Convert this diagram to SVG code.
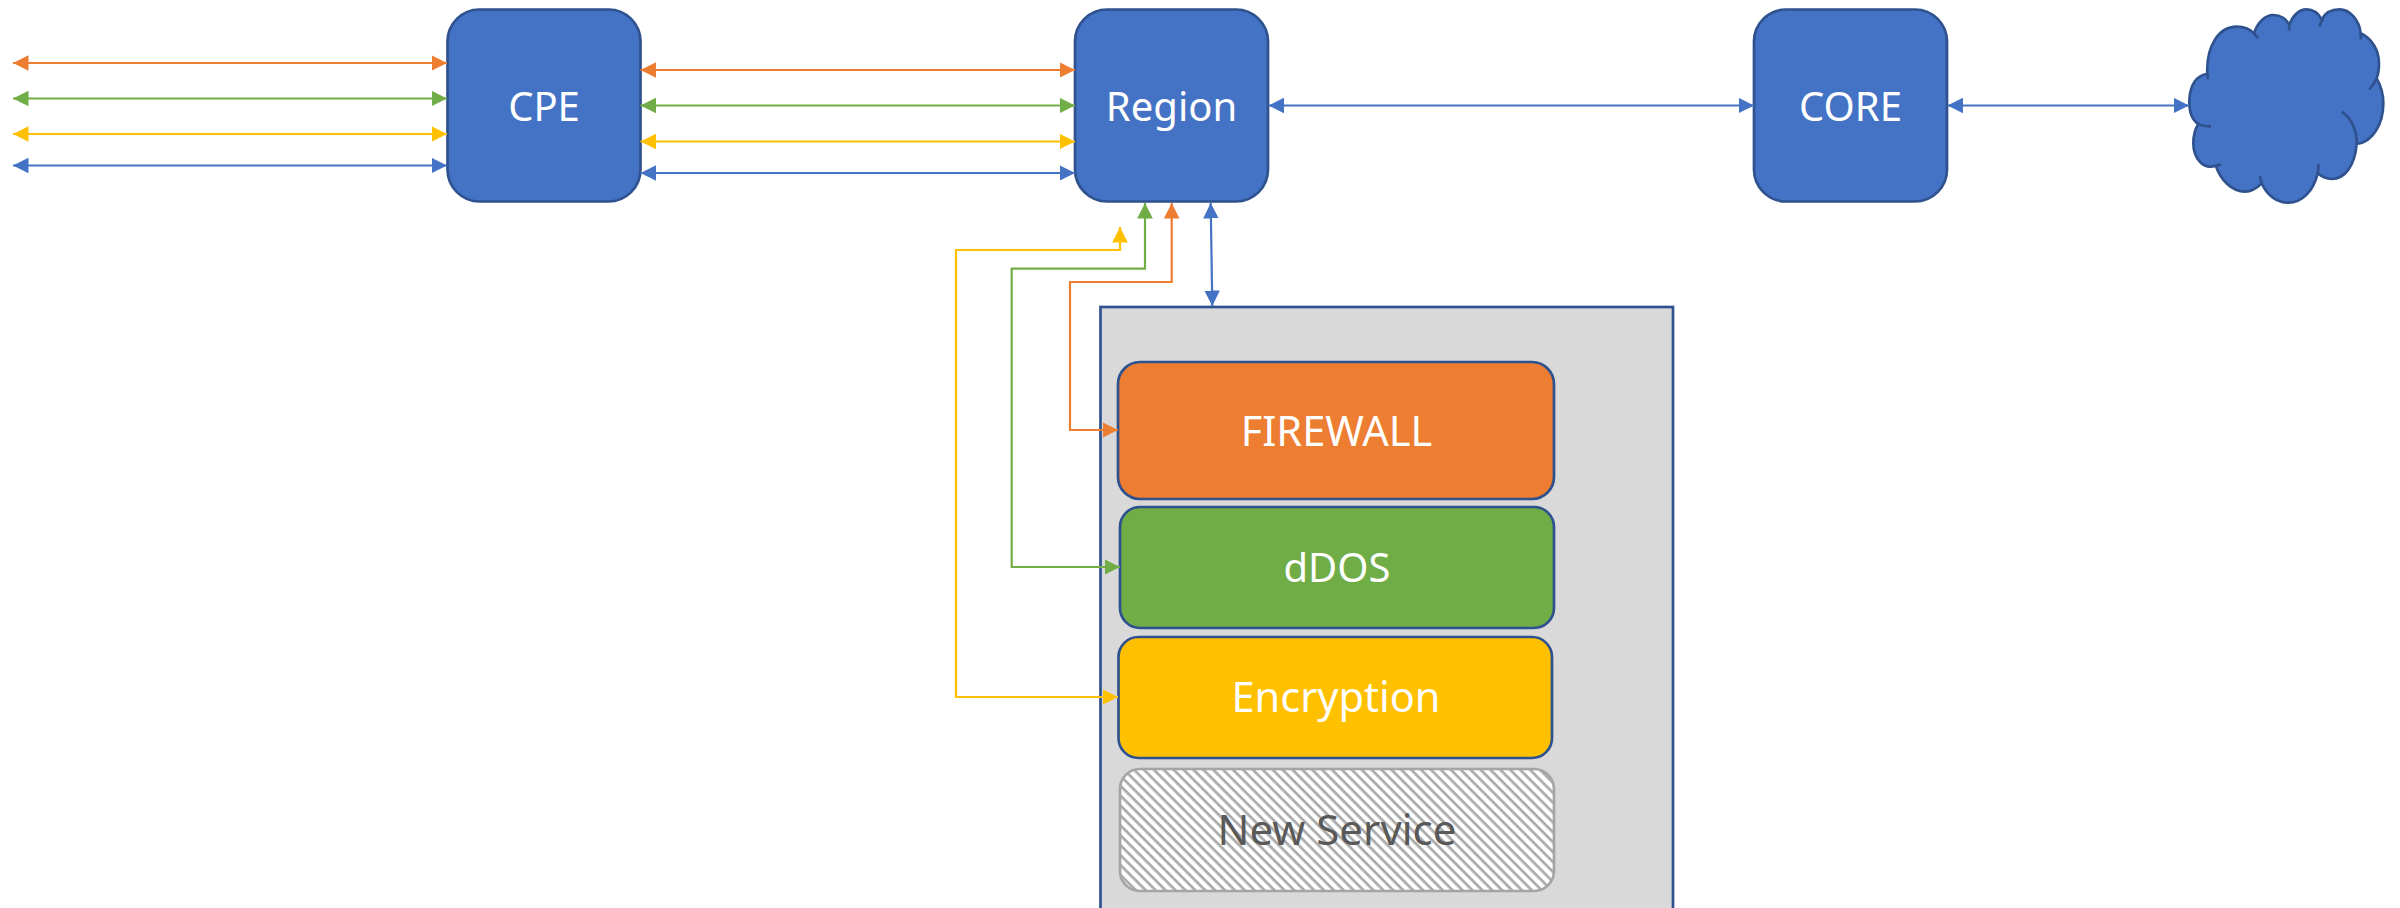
<svg xmlns="http://www.w3.org/2000/svg" width="2400" height="908" viewBox="0 0 2400 908">
<style>
text{font-family:"Noto Sans","Open Sans","Liberation Sans",sans-serif;font-size:40px;fill:#fff;text-anchor:middle}
.s{font-size:41.5px}
.b{fill:#4472c4;stroke:#2f528f;stroke-width:2.7}
.n{stroke:#2f528f;stroke-width:2.7}
.c{fill:none;stroke-width:2.2}
.o{stroke:#ed7d31;marker-end:url(#mo)}
.g{stroke:#70ad47;marker-end:url(#mg)}
.y{stroke:#ffc000;marker-end:url(#my)}
.l{stroke:#4472c4;marker-end:url(#ml)}
.oo{marker-start:url(#mo)}.gg{marker-start:url(#mg)}.yy{marker-start:url(#my)}.ll{marker-start:url(#ml)}
</style>
<defs>
<marker id="mo" markerUnits="userSpaceOnUse" markerWidth="16" markerHeight="16" refX="15.5" refY="8" orient="auto-start-reverse"><path d="M0 0.2L15.5 8L0 15.8z" fill="#ed7d31"/></marker>
<marker id="mg" markerUnits="userSpaceOnUse" markerWidth="16" markerHeight="16" refX="15.5" refY="8" orient="auto-start-reverse"><path d="M0 0.2L15.5 8L0 15.8z" fill="#70ad47"/></marker>
<marker id="my" markerUnits="userSpaceOnUse" markerWidth="16" markerHeight="16" refX="15.5" refY="8" orient="auto-start-reverse"><path d="M0 0.2L15.5 8L0 15.8z" fill="#ffc000"/></marker>
<marker id="ml" markerUnits="userSpaceOnUse" markerWidth="16" markerHeight="16" refX="15.5" refY="8" orient="auto-start-reverse"><path d="M0 0.2L15.5 8L0 15.8z" fill="#4472c4"/></marker>
<pattern id="hatch" patternUnits="userSpaceOnUse" width="7" height="7" patternTransform="rotate(45)"><rect width="7" height="7" fill="#fff"/><rect width="7" height="2.7" fill="#aaaaaa"/></pattern>
</defs>
<g id="services-box"><rect x="1100.5" y="307" width="572.5" height="640" fill="#d9d9d9" stroke="#2f528f" stroke-width="2.7"/></g>
<g id="cpe"><rect class="b" x="447.5" y="9.5" width="193" height="192" rx="32"/><text x="544" y="121">CPE</text></g>
<g id="region"><rect class="b" x="1075" y="9.5" width="193" height="192" rx="32"/><text x="1171.5" y="121">Region</text></g>
<g id="core"><rect class="b" x="1754" y="9.5" width="193" height="192" rx="32"/><text x="1850.5" y="121">CORE</text></g>
<g id="cloud"><path transform="translate(2150 0) scale(.33333)" fill="#4472c4" stroke="#2f528f" stroke-width="8" d="M172 222C168 140 205 80 260 80C282 80 300 88 312 100C322 68 345 45 370 45C392 45 410 58 418 75C428 45 448 28 470 28C490 28 505 40 515 58C525 40 545 28 568 28C600 28 628 60 632 100C665 115 687 150 687 190C687 207 685 222 680 235C693 258 700 282 700 310C700 375 665 428 620 432C615 495 585 537 545 537C530 537 515 530 503 520C490 575 455 608 415 608C380 608 350 585 335 550C320 565 305 575 285 575C245 575 212 540 197 497C160 510 130 475 130 430C130 405 135 388 145 372C125 360 117 330 118 300C120 255 140 225 172 222Z"/><path transform="translate(2150 0) scale(.33333)" fill="none" stroke="#2f528f" stroke-width="8" d="M172 222Q173 230 175 238M312 100Q318 108 325 115M418 75Q418 84 417 92M520 55Q513 66 508 80M632 100Q633 108 632 118M680 235Q672 254 658 268M620 432C623 395 605 355 575 335M503 520Q506 506 505 492M335 550Q331 540 330 528M197 497Q205 496 213 493M145 372Q163 380 183 380"/></g>
<g id="firewall"><rect class="n" x="1118" y="362" width="436" height="137" rx="22" fill="#ed7d31"/><text class="s" x="1336.5" y="446">FIREWALL</text></g>
<g id="ddos"><rect class="n" x="1120" y="507" width="434" height="121" rx="20" fill="#70ad47"/><text x="1337" y="582">dDOS</text></g>
<g id="encryption"><rect class="n" x="1118.5" y="637" width="433.5" height="121" rx="20" fill="#ffc000"/><text class="s" x="1336" y="712">Encryption</text></g>
<g id="new-service"><rect x="1120" y="769" width="434" height="122" rx="20" fill="url(#hatch)" stroke="#a5a5a5" stroke-width="2.7"/><text x="1337" y="845" style="fill:#595959;font-size:42px">New Service</text></g>
<g id="connectors">
<path class="c o oo" d="M13 63H447"/>
<path class="c g gg" d="M13 98.5H447"/>
<path class="c y yy" d="M13 134H447"/>
<path class="c l ll" d="M13 165.5H447"/>
<path class="c o oo" d="M640.5 70H1075"/>
<path class="c g gg" d="M640.5 105.5H1075"/>
<path class="c y yy" d="M640.5 141.5H1075"/>
<path class="c l ll" d="M640.5 173H1075"/>
<path class="c l ll" d="M1268.5 105.5H1754"/>
<path class="c l ll" d="M1947.5 105.5H2189"/>
<path class="c l ll" d="M1210.7 203L1212.3 306"/>
<path class="c o oo" d="M1118 430H1070V282H1171.7V203"/>
<path class="c g gg" d="M1120 567H1011.7V268.7H1145V203"/>
<path class="c y yy" d="M1118 697H956V250H1120V227"/>
</g>
</svg>
